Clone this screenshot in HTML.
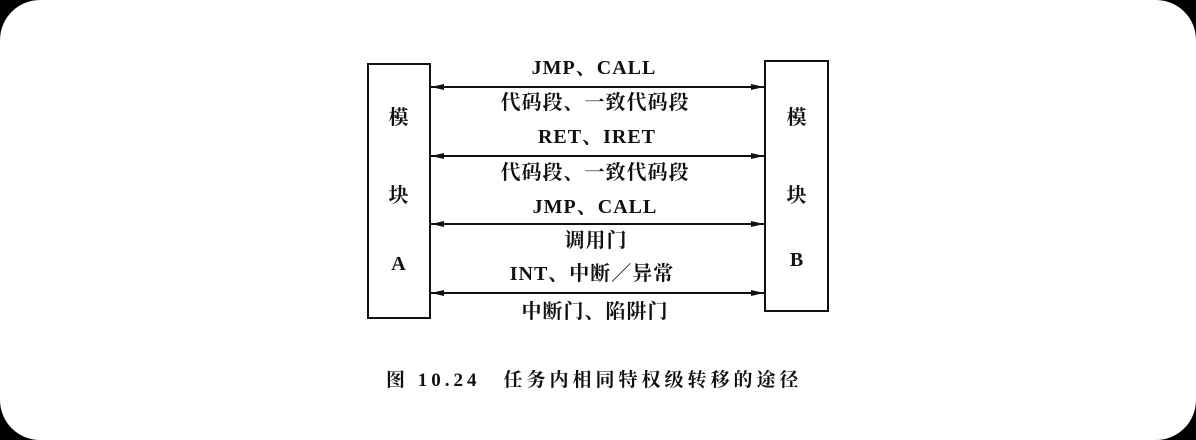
<!DOCTYPE html>
<html><head><meta charset="utf-8"><style>
html,body{margin:0;padding:0;background:#000;}
.card{position:absolute;left:0;top:0;width:1196px;height:440px;background:#fff;border-radius:40px;overflow:hidden;}
.t{position:absolute;font-family:"Liberation Serif","Noto Serif CJK SC",serif;font-weight:bold;font-size:20px;letter-spacing:1px;color:#111;white-space:nowrap;line-height:22px;}
.c{transform:translateX(-50%);}
</style></head><body>
<div class="card">
<svg width="1196" height="440" style="position:absolute;left:0;top:0">
<g stroke="#111" stroke-width="2" fill="none">
<rect x="368" y="64" width="62" height="254"/>
<rect x="765" y="61" width="63" height="250"/>
<line x1="430" y1="87" x2="765" y2="87"/>
<line x1="430" y1="156" x2="765" y2="156"/>
<line x1="430" y1="224" x2="765" y2="224"/>
<line x1="430" y1="293" x2="765" y2="293"/>
</g>
<g fill="#111">
<polygon points="431,87 444,84 444,90"/><polygon points="764,87 751,84 751,90"/>
<polygon points="431,156 444,153 444,159"/><polygon points="764,156 751,153 751,159"/>
<polygon points="431,224 444,221 444,227"/><polygon points="764,224 751,221 751,227"/>
<polygon points="431,293 444,290 444,296"/><polygon points="764,293 751,290 751,296"/>
</g>
</svg>
<div class="t c" style="left:594px;top:57px">JMP、CALL</div>
<div class="t c" style="left:595px;top:92px">代码段、一致代码段</div>
<div class="t c" style="left:597px;top:126px">RET、IRET</div>
<div class="t c" style="left:595px;top:162px">代码段、一致代码段</div>
<div class="t c" style="left:595px;top:196px">JMP、CALL</div>
<div class="t c" style="left:596px;top:230px">调用门</div>
<div class="t c" style="left:592px;top:263px">INT、中断／异常</div>
<div class="t c" style="left:595px;top:301px">中断门、陷阱门</div>
<div class="t c" style="left:399px;top:107px">模</div>
<div class="t c" style="left:399px;top:185px">块</div>
<div class="t c" style="left:399px;top:253px">A</div>
<div class="t c" style="left:797px;top:107px">模</div>
<div class="t c" style="left:797px;top:185px">块</div>
<div class="t c" style="left:797px;top:249px">B</div>
<div class="t" style="left:386px;top:370px;font-size:19px;letter-spacing:4px">图 10.24　任务内相同特权级转移的途径</div>
</div>
</body></html>
